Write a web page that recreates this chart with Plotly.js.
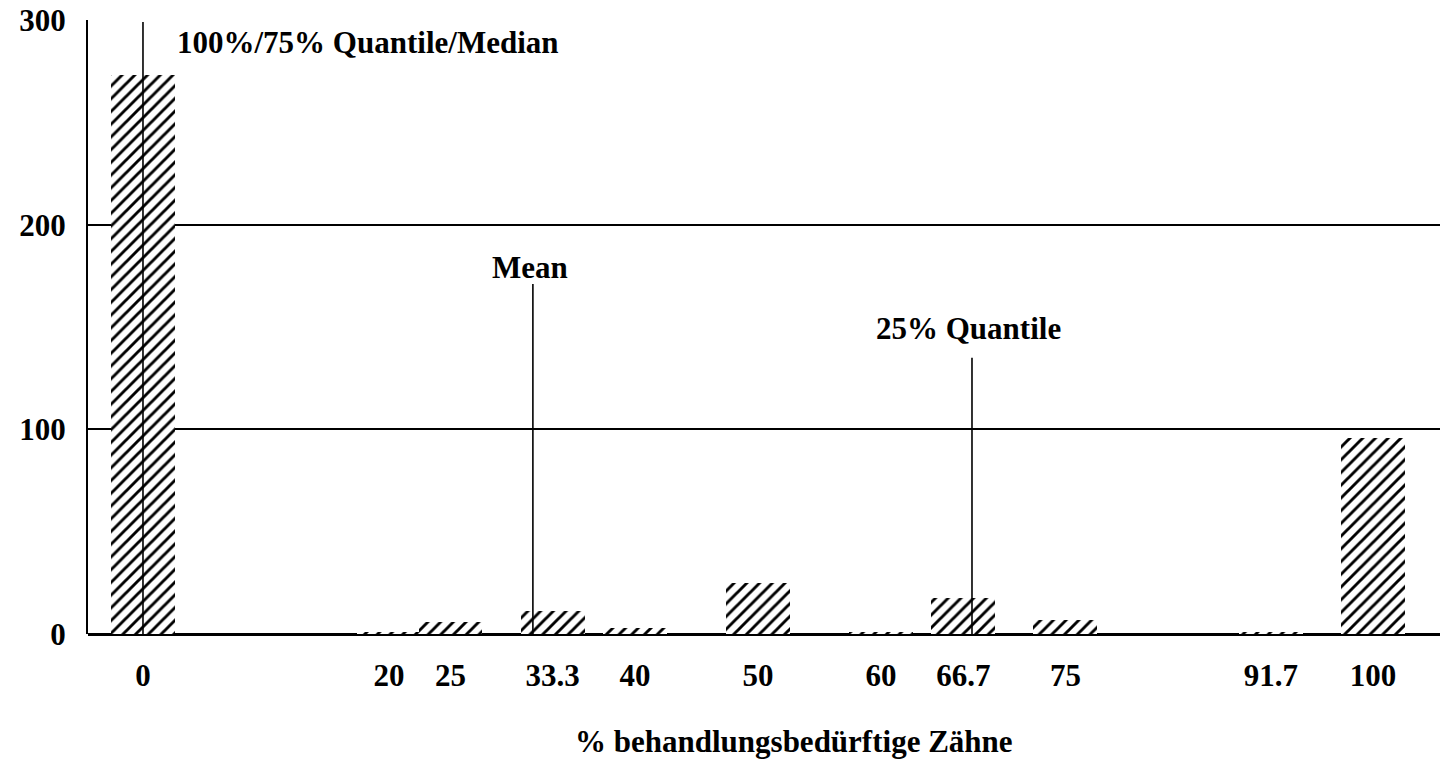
<!DOCTYPE html>
<html>
<head>
<meta charset="utf-8">
<script src="https://cdn.plot.ly/plotly-3.0.1.min.js"></script>
<style>html,body{margin:0;padding:0;background:#fff;}#chart{width:1447px;height:763px;}</style>
</head>
<body>
<div id="chart"></div>
<script>
// Data
const categories = [0, 20, 25, 33.3, 40, 50, 60, 66.7, 75, 91.7, 100];
const tickLabels = ["0", "20", "25", "33.3", "40", "50", "60", "66.7", "75", "91.7", "100"];
const counts = [273, 1, 6, 11, 3, 25, 1, 17.5, 7, 1, 96];
const statNames = ["100%/75% Quantile/Median", "Mean", "25% Quantile"];
const statX = [0, 31.7, 67.4];
const statLineTop = [299, 171, 135];
const xTitle = "% behandlungsbedürftige Zähne";

const FONT = "Liberation Serif, Times New Roman, serif";
const TXT = {family: FONT, size: 31, color: "black", weight: "bold"};

const traces = [{
  type: "bar",
  x: categories,
  y: counts,
  width: 5.2,
  marker: {
    color: "white",
    line: {width: 0},
    pattern: {shape: "/", fgcolor: "black", bgcolor: "white", size: 9, solidity: 0.32}
  },
  hoverinfo: "x+y",
  showlegend: false
}];

statX.forEach((v, i) => {
  traces.push({
    type: "scatter", mode: "lines",
    x: [v, v], y: [0, statLineTop[i]],
    line: {color: "black", width: 1.6},
    showlegend: false, hoverinfo: "skip"
  });
});

const layout = {
  width: 1447, height: 763,
  margin: {l: 88, r: 7, t: 20, b: 129},
  paper_bgcolor: "white", plot_bgcolor: "white",
  font: TXT,
  showlegend: false,
  bargap: 0,
  xaxis: {
    range: [-4.47, 105.45],
    tickvals: categories, ticktext: tickLabels,
    showgrid: false, zeroline: false,
    showline: false,
    ticks: "", ticklabelstandoff: 20,
    tickfont: TXT
  },
  yaxis: {
    range: [0, 300],
    tickvals: [0, 100, 200, 300],
    showgrid: true, gridcolor: "black", gridwidth: 2,
    zeroline: true, zerolinecolor: "black", zerolinewidth: 3,
    showline: true, linecolor: "black", linewidth: 2,
    ticks: "", ticklabelstandoff: 14,
    tickfont: TXT
  },
  annotations: [
    {x: 2.6, y: 289, xref: "x", yref: "y", text: statNames[0], showarrow: false, xanchor: "left", yanchor: "middle", font: TXT},
    {x: 31.5, y: 179, xref: "x", yref: "y", text: statNames[1], showarrow: false, xanchor: "center", yanchor: "middle", font: TXT},
    {x: 67.1, y: 149.5, xref: "x", yref: "y", text: statNames[2], showarrow: false, xanchor: "center", yanchor: "middle", font: TXT},
    {x: 0.522, y: -0.1743, xref: "paper", yref: "paper", text: xTitle, showarrow: false, xanchor: "center", yanchor: "middle", font: TXT}
  ]
};

Plotly.newPlot("chart", traces, layout, {displayModeBar: false, staticPlot: true});
</script>
</body>
</html>
